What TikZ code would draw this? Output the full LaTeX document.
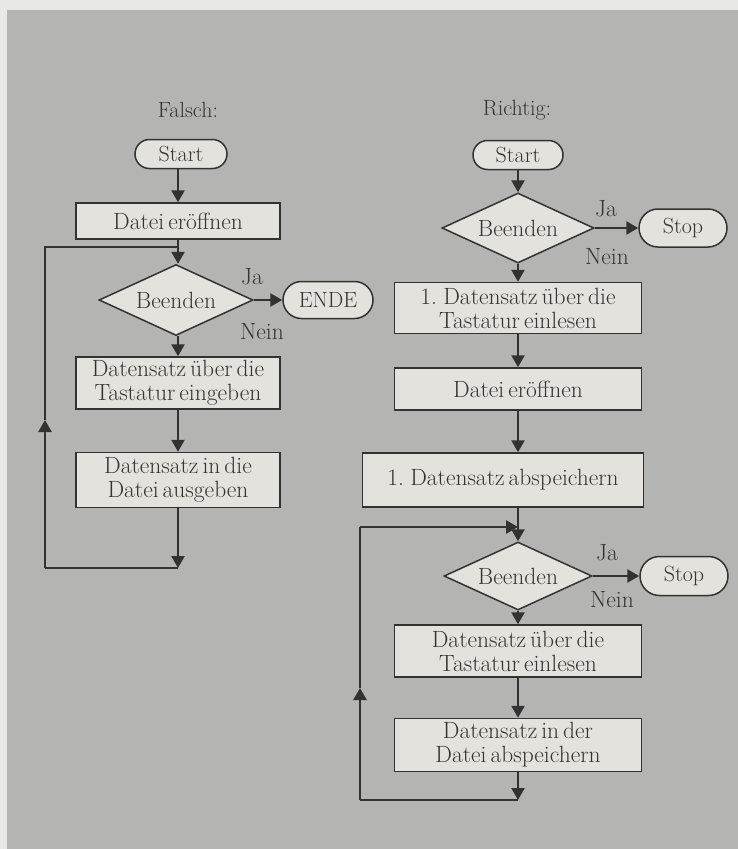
\documentclass[tikz,border=0pt]{standalone}
\usetikzlibrary{arrows.meta,shapes.geometric,shapes.misc}
\definecolor{bgc}{RGB}{180,180,178}
\definecolor{boxc}{RGB}{228,226,221}
\definecolor{linec}{RGB}{50,50,50}
\definecolor{txtc}{RGB}{52,52,50}
\definecolor{paper}{RGB}{232,232,228}
\newcommand\myboxfont{\fontsize{23.5}{24}\selectfont\spaceskip=4pt plus 1pt minus 1pt\relax}
\newcommand\mytermfont{\fontsize{22}{24}\selectfont}
\begin{document}
\begin{tikzpicture}[x=1pt,y=-1pt,
  every node/.style={font=\myboxfont, text=txtc, inner sep=0pt},
  proc/.style={draw=linec, fill=boxc, line width=1.5pt, rectangle, align=center},
  term/.style={draw=linec, fill=boxc, line width=1.5pt, rounded rectangle, font=\mytermfont},
  dec/.style={draw=linec, fill=boxc, line width=1.5pt, diamond, aspect=2.2},
  lbl/.style={font=\mytermfont},
  conn/.style={draw=linec, line width=2.6pt, line join=miter},
  arr/.style={conn, -{Triangle[length=12pt,width=13pt]}}
]
\useasboundingbox (0,0) rectangle (738,849);
\fill[paper] (0,0) rectangle (738,849);
\fill[bgc] (7,10) rectangle (738,849);

% ---------- left: Falsch ----------
\node[lbl] (fal) at (188,110) {Falsch:};
\node[term, minimum width=92, minimum height=29] (ls) at (181,154) {Start};
\node[proc, minimum width=204, minimum height=36] (lopen) at (178,221) {Datei eröffnen};
\node[dec, minimum width=154, minimum height=71] (ldec) at (176,300) {Beenden};
\node[term, minimum width=90, minimum height=37] (lende) at (328,300) {ENDE};
\node[proc, minimum width=204, minimum height=52] (lin) at (178,383) {Datensatz über die\\Tastatur eingeben};
\node[proc, minimum width=204, minimum height=55] (lout) at (178,480) {Datensatz in die\\Datei ausgeben};
\node (lja) at (252,277) {Ja};
\node (lnein) at (262,332) {Nein};

\coordinate (lj) at (178,247);
\coordinate (lb) at (178,568);
\coordinate (lbl) at (45,568);
\coordinate (lm) at (45,420);
\coordinate (lt) at (45,247);

\draw[arr] (lj |- ls.south) -- (lopen.north);
\draw[conn] (lopen.south) -- (lj);
\draw[arr] (lj) -- (lj |- ldec.north);
\draw[arr] (ldec.east) -- (lende.west);
\draw[arr] (lj |- ldec.south) -- (lin.north);
\draw[arr] (lin.south) -- (lout.north);
\draw[arr] (lout.south) -- (lb);
\draw[conn] (lb) -- (lbl);
\draw[arr] (lbl) -- (lm);
\draw[conn] (lm) -- (lt) -- (lj);

% ---------- right: Richtig ----------
\node[lbl] (ric) at (517,110) {Richtig:};
\node[term, minimum width=90, minimum height=29] (rs) at (518,155) {Start};
\node[dec, minimum width=152, minimum height=70] (rd1) at (518,228) {Beenden};
\node[term, minimum width=88, minimum height=38] (rstop1) at (683,228) {Stop};
\node (rja1) at (606,209) {Ja};
\node (rnein1) at (607,257) {Nein};
\node[proc, minimum width=247, minimum height=51] (r1) at (518,308) {1. Datensatz über die\\Tastatur einlesen};
\node[proc, minimum width=247, minimum height=42] (r2) at (518,389) {Datei eröffnen};
\node[proc, minimum width=281, minimum height=54] (r3) at (503,480) {1. Datensatz abspeichern};
\node[dec, minimum width=148, minimum height=68] (rd2) at (518,576) {Beenden};
\node[term, minimum width=88, minimum height=39] (rstop2) at (684,576) {Stop};
\node (rja2) at (607,553) {Ja};
\node (rnein2) at (612,600) {Nein};
\node[proc, minimum width=247, minimum height=52] (r4) at (518,651) {Datensatz über die\\Tastatur einlesen};
\node[proc, minimum width=247, minimum height=53] (r5) at (518,745) {Datensatz in der\\Datei abspeichern};

\coordinate (rj) at (518,527);
\coordinate (rb) at (518,800);
\coordinate (rbl) at (360,800);
\coordinate (rm) at (360,688);
\coordinate (rt) at (360,527);

\draw[arr] (rs.south) -- (rd1.north);
\draw[arr] (rd1.east) -- (rstop1.west);
\draw[arr] (rd1.south) -- (r1.north);
\draw[arr] (r1.south) -- (r2.north);
\draw[arr] (r2.south) -- (r2.south |- r3.north);
\draw[conn] (rj |- r3.south) -- (rj);
\draw[arr] (rj) -- (rd2.north);
\draw[arr] (rd2.east) -- (rstop2.west);
\draw[arr] (rd2.south) -- (r4.north);
\draw[arr] (r4.south) -- (r5.north);
\draw[arr] (r5.south) -- (rb);
\draw[conn] (rb) -- (rbl);
\draw[arr] (rbl) -- (rm);
\draw[conn] (rm) -- (rt);
\draw[arr] (rt) -- (rj);
\end{tikzpicture}
\end{document}
